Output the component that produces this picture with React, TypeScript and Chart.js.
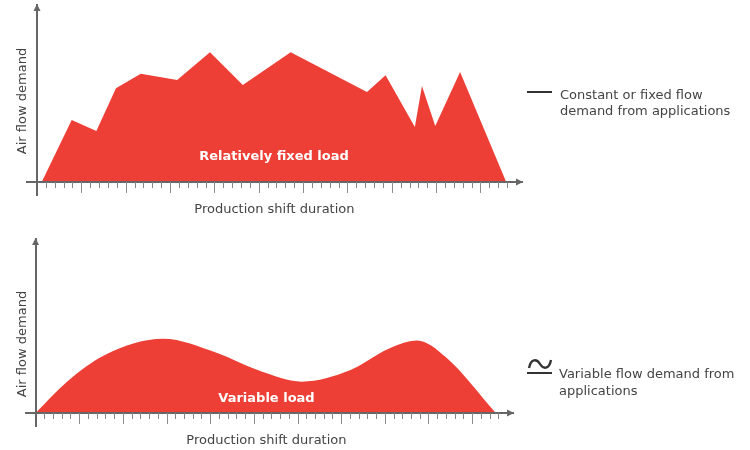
import React, { useEffect, useRef } from "react";
import { Chart, registerables } from "chart.js";

Chart.register(...registerables);

// Shift time in tick units, demand in percent of the axis height
const fixedTime = [0.53, 3.91, 6.69, 8.9, 11.7, 15.8, 19.5, 23.2, 28.6, 37.2, 39.3, 42.6, 43.4, 44.9, 47.7, 52.9];
const fixedDemand = [0, 35, 28.8, 52.9, 61.2, 57.6, 73.3, 54.8, 73.3, 50.8, 60.3, 31.1, 54.2, 31.6, 62.1, 0];
const variableTime = [0, 3.6, 8, 14.6, 20.8, 25.5, 30.5, 36, 40.5, 43.7, 47, 52.7];
const variableDemand = [0, 18, 33.5, 42.7, 34.5, 24.5, 18, 24.5, 37, 41.6, 32, 0];

const xAxisTitle = "Production shift duration";
const yAxisTitle = "Air flow demand";
const fixedLabel = "Relatively fixed load";
const variableLabel = "Variable load";
const fixedLegend = ["Constant or fixed flow", "demand from applications"];
const variableLegend = ["Variable flow demand from", "applications"];
const tickCount = 54;
const majorEvery = 5;

const RED = "#EE3F36";
const AXIS = "#666666";
const TEXT = "#444444";
const FONT = '"DejaVu Sans", sans-serif';

type Panel = {
  time: number[];
  demand: number[];
  curved: boolean;
  padding: { top: number; bottom: number; left: number; right: number };
  yMin: number;
  innerLabel: { text: string; x: number; y: number };
  xTitlePos: { x: number; y: number };
  yTitlePos: { x: number; y: number };
  legend: { lines: string[]; x: number; y: number; wave: boolean; iconY: number };
  minorLen: number;
  majorLen: number;
};

function panelPlugin(p: Panel) {
  return {
    id: "panelDecor",
    afterDraw(chart: any) {
      const { ctx, scales } = chart;
      const x = scales.x;
      const y = scales.y;
      const x0 = x.getPixelForValue(0);
      const y0 = y.getPixelForValue(0);
      ctx.save();

      // ticks below the axis line
      for (const t of x.ticks) {
        if (t.value === 0) continue;
        const px = Math.round(x.getPixelForValue(t.value)) + 0.5;
        const major = t.value % majorEvery === 0;
        ctx.lineWidth = 1;
        ctx.strokeStyle = major ? "#8c8c8c" : "#858585";
        ctx.beginPath();
        ctx.moveTo(px, y0);
        ctx.lineTo(px, y0 + (major ? p.majorLen : p.minorLen));
        ctx.stroke();
      }

      // arrow heads
      ctx.fillStyle = AXIS;
      ctx.beginPath();
      ctx.moveTo(x.right + 1, y0);
      ctx.lineTo(x.right - 6, y0 - 3.5);
      ctx.lineTo(x.right - 6, y0 + 3.5);
      ctx.closePath();
      ctx.fill();
      ctx.beginPath();
      ctx.moveTo(x0, y.top - 1);
      ctx.lineTo(x0 - 3.5, y.top + 6);
      ctx.lineTo(x0 + 3.5, y.top + 6);
      ctx.closePath();
      ctx.fill();

      // titles
      ctx.textAlign = "center";
      ctx.textBaseline = "middle";
      ctx.fillStyle = TEXT;
      ctx.font = `13px ${FONT}`;
      ctx.fillText(xAxisTitle, p.xTitlePos.x, p.xTitlePos.y);
      ctx.save();
      ctx.translate(p.yTitlePos.x, p.yTitlePos.y);
      ctx.rotate(-Math.PI / 2);
      ctx.fillText(yAxisTitle, 0, 0);
      ctx.restore();

      ctx.fillStyle = "#ffffff";
      ctx.font = `bold 13px ${FONT}`;
      ctx.fillText(p.innerLabel.text, p.innerLabel.x, p.innerLabel.y);

      // legend
      ctx.textAlign = "left";
      ctx.fillStyle = TEXT;
      ctx.font = `13px ${FONT}`;
      p.legend.lines.forEach((line, i) => {
        ctx.fillText(line, p.legend.x, p.legend.y + i * 16.5);
      });
      ctx.strokeStyle = "#333333";
      ctx.lineWidth = 2;
      ctx.beginPath();
      ctx.moveTo(527, p.legend.iconY);
      ctx.lineTo(552, p.legend.iconY);
      ctx.stroke();
      if (p.legend.wave) {
        const w = p.legend.iconY - 8;
        ctx.lineWidth = 2.4;
        ctx.beginPath();
        ctx.moveTo(529, w + 3);
        ctx.bezierCurveTo(531, w - 7, 537, w - 6, 540, w - 1);
        ctx.bezierCurveTo(543, w + 4, 549, w + 5, 551, w - 5);
        ctx.stroke();
      }
      ctx.restore();
    },
  };
}

function buildChart(canvas: HTMLCanvasElement, p: Panel) {
  return new Chart(canvas, {
    type: "line",
    data: {
      datasets: [
        {
          data: p.time.map((t, i) => ({ x: t, y: p.demand[i] })),
          backgroundColor: RED,
          borderWidth: 0,
          pointRadius: 0,
          fill: "origin",
          cubicInterpolationMode: p.curved ? "monotone" : "default",
          tension: 0,
        },
      ],
    },
    options: {
      animation: false,
      responsive: false,
      maintainAspectRatio: false,
      layout: { padding: p.padding },
      plugins: { legend: { display: false }, title: { display: false }, tooltip: { enabled: false } },
      scales: {
        x: {
          type: "linear",
          min: -1.13,
          max: 54.68,
          position: { y: 0 },
          grid: { display: false, drawTicks: false },
          border: { display: true, color: AXIS, width: 2, z: 1 },
          ticks: { display: false },
          afterBuildTicks: (axis: any) => {
            axis.ticks = Array.from({ length: tickCount }, (_, i) => ({ value: i }));
          },
        },
        y: {
          type: "linear",
          min: p.yMin,
          max: 100,
          position: { x: 0 },
          grid: { display: false, drawTicks: false },
          border: { display: true, color: AXIS, width: 2, z: 1 },
          ticks: { display: false },
        },
      },
    } as any,
    plugins: [panelPlugin(p)],
  } as any);
}

const topPanel: Panel = {
  time: fixedTime,
  demand: fixedDemand,
  curved: false,
  padding: { top: 5, bottom: 30, left: 27, right: 228 },
  yMin: -7.34,
  innerLabel: { text: fixedLabel, x: 274, y: 157 },
  xTitlePos: { x: 274.4, y: 209.5 },
  yTitlePos: { x: 22.5, y: 101 },
  legend: { lines: fixedLegend, x: 560, y: 95.5, wave: false, iconY: 92 },
  minorLen: 6,
  majorLen: 11,
};

const bottomPanel: Panel = {
  time: variableTime,
  demand: variableDemand,
  curved: true,
  padding: { top: 14, bottom: 24, left: 25.7, right: 237 },
  yMin: -7.47,
  innerLabel: { text: variableLabel, x: 266.5, y: 174 },
  xTitlePos: { x: 266.4, y: 215.3 },
  yTitlePos: { x: 22.5, y: 119 },
  legend: { lines: variableLegend, x: 559, y: 150, wave: true, iconY: 148 },
  minorLen: 6,
  majorLen: 11,
};

export default function App() {
  const topRef = useRef<HTMLCanvasElement>(null);
  const bottomRef = useRef<HTMLCanvasElement>(null);

  useEffect(() => {
    const a = buildChart(topRef.current as HTMLCanvasElement, topPanel);
    const b = buildChart(bottomRef.current as HTMLCanvasElement, bottomPanel);
    return () => {
      a.destroy();
      b.destroy();
    };
  }, []);

  return (
    <div style={{ position: "fixed", left: 0, top: 0, width: 750, height: 450, background: "#fff" }}>
      <canvas ref={topRef} width={750} height={225} style={{ position: "absolute", left: 0, top: 0, width: 750, height: 225 }} />
      <canvas ref={bottomRef} width={750} height={225} style={{ position: "absolute", left: 0, top: 225, width: 750, height: 225 }} />
    </div>
  );
}
